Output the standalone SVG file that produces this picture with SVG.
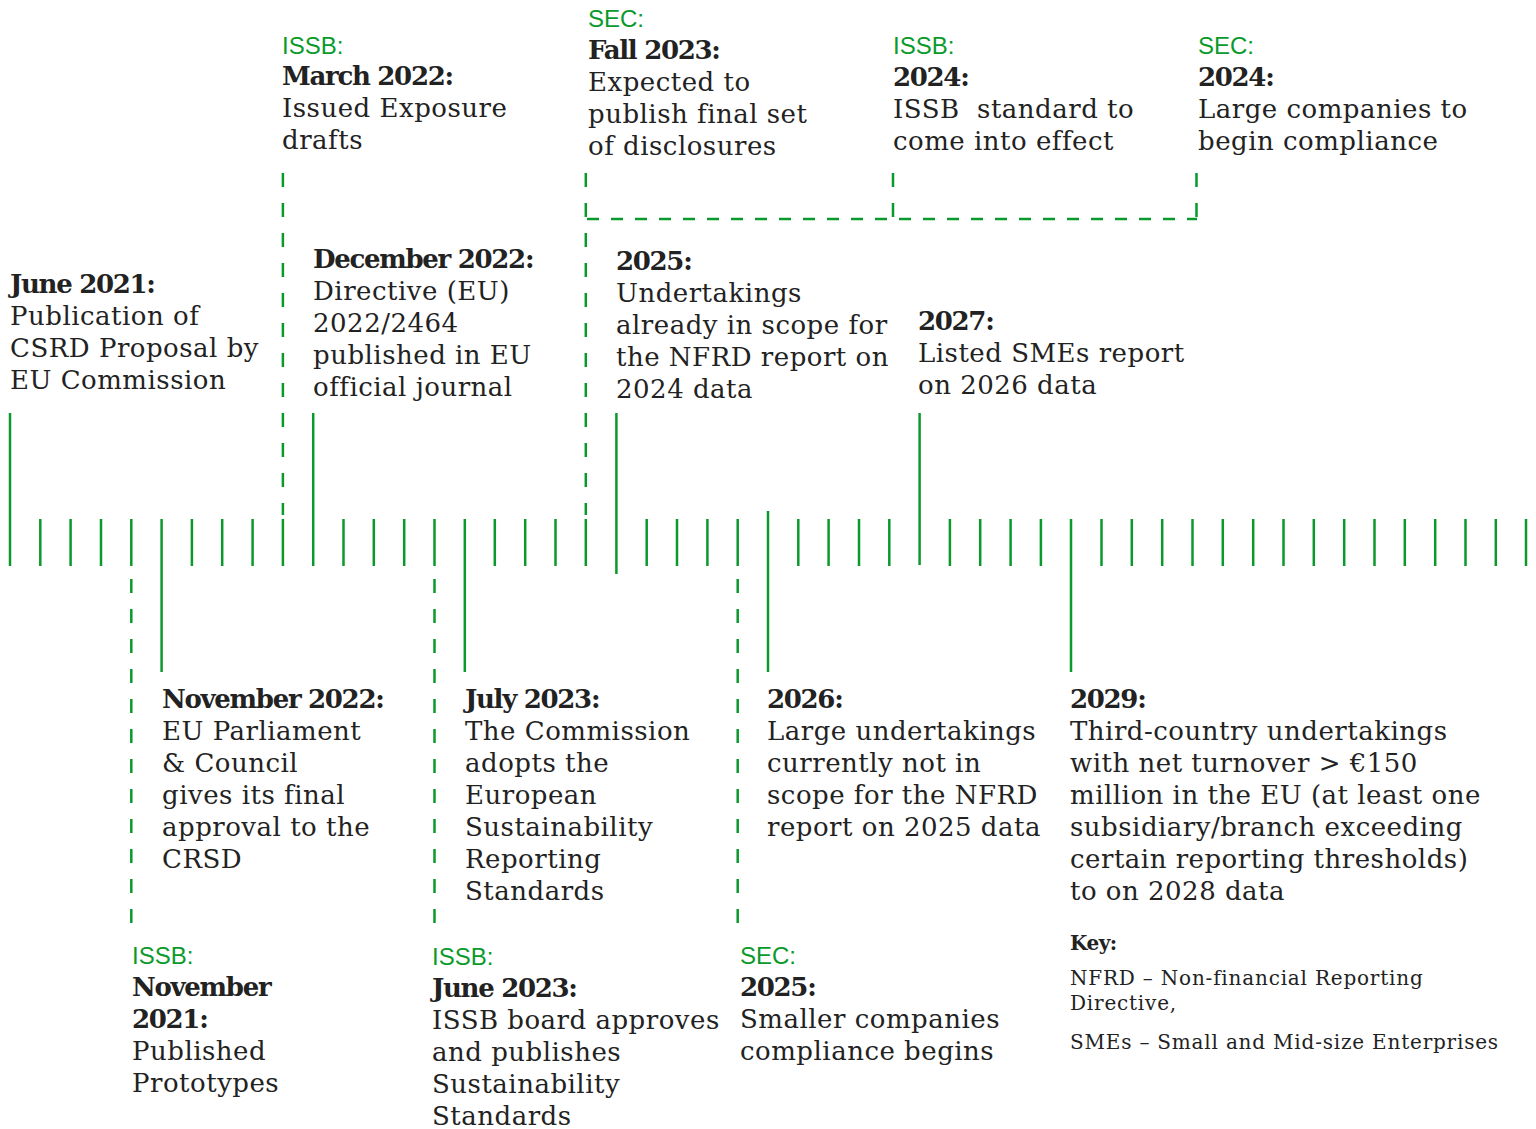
<svg xmlns="http://www.w3.org/2000/svg" width="1536" height="1129" viewBox="0 0 1536 1129">
  <style>
    .t { font-family: "DejaVu Serif", "Liberation Serif", serif; font-size: 26px; fill: #222; letter-spacing: 0.5px; }
    .b { font-weight: bold; letter-spacing: -1.3px; }
    .g { font-family: "Liberation Sans", Arial, sans-serif; font-size: 24px; fill: #0a9a2c; }
    .k { font-family: "DejaVu Serif", "Liberation Serif", serif; font-size: 20px; fill: #222; letter-spacing: 0.8px; }
    .kb { font-weight: bold; letter-spacing: -0.5px; }
    .tick { stroke: #0a9a2c; stroke-width: 2.5; fill: none; }
    .dv { stroke: #0a9a2c; stroke-width: 2.5; fill: none; stroke-dasharray: 14 16; }
    .dh { stroke: #0a9a2c; stroke-width: 2.5; fill: none; stroke-dasharray: 12 12; }
  </style>
  <rect width="1536" height="1129" fill="#fff"/>

  <g id="connectors">
    <!-- timeline ticks -->
    <g id="ticks">
      <path class="tick" d="M40.3 519V566M70.6 519V566M101 519V566M131.3 519V566M191.9 519V566M222.2 519V566M252.6 519V566M282.9 519V566M343.5 519V566M373.8 519V566M404.2 519V566M434.5 519V566M494.8 519V566M525.2 519V566M555.5 519V566M585.8 519V566M646.7 519V566M677 519V566M707.4 519V566M737.7 519V566M798.3 519V566M828.6 519V566M859 519V566M889.3 519V566M949.9 519V566M980.2 519V566M1010.6 519V566M1040.9 519V566M1101.5 519V566M1131.8 519V566M1162.2 519V566M1192.5 519V566M1222.8 519V566M1253.2 519V566M1283.5 519V566M1313.8 519V566M1344.2 519V566M1374.5 519V566M1404.8 519V566M1435.2 519V566M1465.5 519V566M1495.8 519V566M1526 519V566"/>
    </g>
    <!-- solid leaders -->
    <path class="tick" d="M10 413V566"/>
    <path class="tick" d="M161.6 519V672"/>
    <path class="tick" d="M313.2 413V566"/>
    <path class="tick" d="M464.8 519V672"/>
    <path class="tick" d="M616.4 413V574"/>
    <path class="tick" d="M768 511V672"/>
    <path class="tick" d="M919.6 413V565"/>
    <path class="tick" d="M1071 519V672"/>
    <!-- dashed leaders -->
    <path class="dv" d="M282.9 173V515"/>
    <path class="dv" d="M585.8 173V515"/>
    <path class="dv" d="M893 173V219"/>
    <path class="dv" d="M1196.5 173V219"/>
    <path class="dh" d="M587 219H1197"/>
    <path class="dv" d="M131.3 579V925"/>
    <path class="dv" d="M434.5 579V925"/>
    <path class="dv" d="M737.7 579V925"/>
  </g>

  <g id="june-2021">
    <text class="t b" x="10" y="293">June 2021:</text>
    <text class="t" x="10" y="325">Publication of</text>
    <text class="t" x="10" y="357">CSRD Proposal by</text>
    <text class="t" x="10" y="389">EU Commission</text>
  </g>

  <g id="issb-march-2022">
    <text class="g" x="282" y="54">ISSB:</text>
    <text class="t b" x="282" y="85">March 2022:</text>
    <text class="t" x="282" y="117">Issued Exposure</text>
    <text class="t" x="282" y="149">drafts</text>
  </g>

  <g id="sec-fall-2023">
    <text class="g" x="588" y="27">SEC:</text>
    <text class="t b" x="588" y="59">Fall 2023:</text>
    <text class="t" x="588" y="91">Expected to</text>
    <text class="t" x="588" y="123">publish final set</text>
    <text class="t" x="588" y="155">of disclosures</text>
  </g>

  <g id="issb-2024">
    <text class="g" x="893" y="54">ISSB:</text>
    <text class="t b" x="893" y="86">2024:</text>
    <text class="t" x="893" y="118" xml:space="preserve">ISSB  standard to</text>
    <text class="t" x="893" y="150">come into effect</text>
  </g>

  <g id="sec-2024">
    <text class="g" x="1198" y="54">SEC:</text>
    <text class="t b" x="1198" y="86">2024:</text>
    <text class="t" x="1198" y="118">Large companies to</text>
    <text class="t" x="1198" y="150">begin compliance</text>
  </g>

  <g id="december-2022">
    <text class="t b" x="313" y="268">December 2022:</text>
    <text class="t" x="313" y="300">Directive (EU)</text>
    <text class="t" x="313" y="332">2022/2464</text>
    <text class="t" x="313" y="364">published in EU</text>
    <text class="t" x="313" y="396">official journal</text>
  </g>

  <g id="y2025-nfrd">
    <text class="t b" x="616" y="270">2025:</text>
    <text class="t" x="616" y="302">Undertakings</text>
    <text class="t" x="616" y="334">already in scope for</text>
    <text class="t" x="616" y="366">the NFRD report on</text>
    <text class="t" x="616" y="398">2024 data</text>
  </g>

  <g id="y2027">
    <text class="t b" x="918" y="330">2027:</text>
    <text class="t" x="918" y="362">Listed SMEs report</text>
    <text class="t" x="918" y="394">on 2026 data</text>
  </g>

  <g id="november-2022">
    <text class="t b" x="162" y="708">November 2022:</text>
    <text class="t" x="162" y="740">EU Parliament</text>
    <text class="t" x="162" y="772">&amp; Council</text>
    <text class="t" x="162" y="804">gives its final</text>
    <text class="t" x="162" y="836">approval to the</text>
    <text class="t" x="162" y="868">CRSD</text>
  </g>

  <g id="july-2023">
    <text class="t b" x="465" y="708">July 2023:</text>
    <text class="t" x="465" y="740">The Commission</text>
    <text class="t" x="465" y="772">adopts the</text>
    <text class="t" x="465" y="804">European</text>
    <text class="t" x="465" y="836">Sustainability</text>
    <text class="t" x="465" y="868">Reporting</text>
    <text class="t" x="465" y="900">Standards</text>
  </g>

  <g id="y2026">
    <text class="t b" x="767" y="708">2026:</text>
    <text class="t" x="767" y="740">Large undertakings</text>
    <text class="t" x="767" y="772">currently not in</text>
    <text class="t" x="767" y="804">scope for the NFRD</text>
    <text class="t" x="767" y="836">report on 2025 data</text>
  </g>

  <g id="y2029">
    <text class="t b" x="1070" y="708">2029:</text>
    <text class="t" x="1070" y="740">Third-country undertakings</text>
    <text class="t" x="1070" y="772">with net turnover &gt; €150</text>
    <text class="t" x="1070" y="804">million in the EU (at least one</text>
    <text class="t" x="1070" y="836">subsidiary/branch exceeding</text>
    <text class="t" x="1070" y="868">certain reporting thresholds)</text>
    <text class="t" x="1070" y="900">to on 2028 data</text>
  </g>

  <g id="issb-november-2021">
    <text class="g" x="132" y="964">ISSB:</text>
    <text class="t b" x="132" y="996">November</text>
    <text class="t b" x="132" y="1028">2021:</text>
    <text class="t" x="132" y="1060">Published</text>
    <text class="t" x="132" y="1092">Prototypes</text>
  </g>

  <g id="issb-june-2023">
    <text class="g" x="432" y="965">ISSB:</text>
    <text class="t b" x="432" y="997">June 2023:</text>
    <text class="t" x="432" y="1029">ISSB board approves</text>
    <text class="t" x="432" y="1061">and publishes</text>
    <text class="t" x="432" y="1093">Sustainability</text>
    <text class="t" x="432" y="1125">Standards</text>
  </g>

  <g id="sec-2025">
    <text class="g" x="740" y="964">SEC:</text>
    <text class="t b" x="740" y="996">2025:</text>
    <text class="t" x="740" y="1028">Smaller companies</text>
    <text class="t" x="740" y="1060">compliance begins</text>
  </g>

  <g id="key">
    <text class="k kb" x="1070" y="950">Key:</text>
    <text class="k" x="1070" y="985">NFRD – Non-financial Reporting</text>
    <text class="k" x="1070" y="1010">Directive,</text>
    <text class="k" x="1070" y="1049">SMEs – Small and Mid-size Enterprises</text>
  </g>
</svg>
